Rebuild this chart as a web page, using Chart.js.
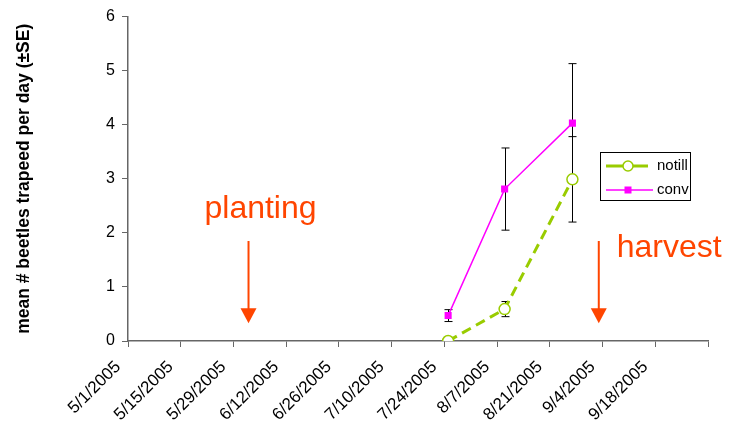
<!DOCTYPE html>
<html>
<head>
<meta charset="utf-8">
<script src="https://cdn.jsdelivr.net/npm/chart.js@4.4.0/dist/chart.umd.min.js"></script>
<style>
  body { margin: 0; background: #fff; }
  canvas { display: block; }
</style>
</head>
<body>
<canvas id="chart" width="738" height="430"></canvas>
<script>
// sampling dates and trap counts
const sampleDates = ['7/25/2005', '8/9/2005', '8/27/2005'];
const notill = [0, 0.59, 2.99];
const notillSE = [0, 0.14, 0.79];
const conv = [0.47, 2.81, 4.03];
const convSE = [0.11, 0.76, 1.10];

const startDate = '5/1/2005';
const endDate = '10/2/2005';
const tickStepDays = 14;
const yTicks = [0, 1, 2, 3, 4, 5, 6];

// field events marked with arrows
const eventLabels = ['planting', 'harvest'];
const eventDates = ['6/2/2005', '9/3/2005'];
const arrowFrom = 1.85;
const arrowTo = 0.33;

const ORANGE = '#FF4500';
const AXIS = '#666';
const FONT = '"Liberation Sans", Arial, sans-serif';

function toDate(s) {
    const [m, d, y] = s.split('/').map(Number);
    return Date.UTC(y, m - 1, d);
}
function dayNum(s) {
    return Math.round((toDate(s) - toDate(startDate)) / 864e5);
}
function dayLabel(n) {
    const d = new Date(toDate(startDate) + n * 864e5);
    return (d.getUTCMonth() + 1) + '/' + d.getUTCDate() + '/' + d.getUTCFullYear();
}

const xs = sampleDates.map(dayNum);
const xMax = dayNum(endDate);

const errorBars = {
    id: 'errorBars',
    beforeDatasetsDraw(chart) {
        const ctx = chart.ctx;
        const xScale = chart.scales.x, yScale = chart.scales.y;
        ctx.save();
        ctx.strokeStyle = '#000';
        ctx.lineWidth = 1;
        [[notill, notillSE], [conv, convSE]].forEach(([vals, se]) => {
            vals.forEach((v, i) => {
                if (!se[i]) return;
                const px = Math.round(xScale.getPixelForValue(xs[i])) + 0.5;
                const top = yScale.getPixelForValue(v + se[i]);
                const bot = yScale.getPixelForValue(v - se[i]);
                ctx.beginPath();
                ctx.moveTo(px, top); ctx.lineTo(px, bot);
                ctx.moveTo(px - 4, top); ctx.lineTo(px + 4, top);
                ctx.moveTo(px - 4, bot); ctx.lineTo(px + 4, bot);
                ctx.stroke();
            });
        });
        ctx.restore();
    }
};

const extras = {
    id: 'extras',
    afterDraw(chart) {
        const ctx = chart.ctx;
        const xScale = chart.scales.x, yScale = chart.scales.y;
        ctx.save();

        // event arrows and labels
        ctx.fillStyle = ORANGE;
        ctx.strokeStyle = ORANGE;
        ctx.lineWidth = 2;
        ctx.font = '32px ' + FONT;
        eventDates.forEach((d, i) => {
            const px = xScale.getPixelForValue(dayNum(d));
            const top = yScale.getPixelForValue(arrowFrom);
            const bot = yScale.getPixelForValue(arrowTo);
            ctx.beginPath();
            ctx.moveTo(px, top); ctx.lineTo(px, bot - 14);
            ctx.stroke();
            ctx.beginPath();
            ctx.moveTo(px - 8, bot - 15);
            ctx.lineTo(px + 8, bot - 15);
            ctx.lineTo(px, bot);
            ctx.closePath();
            ctx.fill();
            if (i === 0) {
                ctx.textAlign = 'center';
                ctx.fillText(eventLabels[i], px + 12, top - 23);
            } else {
                ctx.textAlign = 'left';
                ctx.fillText(eventLabels[i], px + 18, top + 16);
            }
        });

        // legend
        const lx = 600.5, ly = 152.5, lw = 90, lh = 48;
        ctx.strokeStyle = '#000';
        ctx.lineWidth = 1;
        ctx.strokeRect(lx, ly, lw, lh);
        ctx.font = '15px ' + FONT;
        ctx.textAlign = 'left';
        ctx.textBaseline = 'middle';

        ctx.strokeStyle = '#99CC00';
        ctx.lineWidth = 3;
        ctx.beginPath(); ctx.moveTo(606, 166); ctx.lineTo(648, 166); ctx.stroke();
        ctx.fillStyle = '#fff';
        ctx.lineWidth = 1.5;
        ctx.beginPath(); ctx.arc(628, 166, 5, 0, Math.PI * 2); ctx.fill(); ctx.stroke();
        ctx.fillStyle = '#000';
        ctx.fillText('notill', 657, 166);

        ctx.strokeStyle = '#FF00FF';
        ctx.lineWidth = 1.5;
        ctx.beginPath(); ctx.moveTo(606, 190); ctx.lineTo(653, 190); ctx.stroke();
        ctx.fillStyle = '#FF00FF';
        ctx.fillRect(624.5, 186.5, 7, 7);
        ctx.fillStyle = '#000';
        ctx.fillText('conv', 657, 190);

        ctx.restore();
    }
};

new Chart(document.getElementById('chart'), {
    type: 'line',
    data: {
        datasets: [
            {
                label: 'notill',
                data: xs.map((x, i) => ({ x: x, y: notill[i] })),
                borderColor: '#99CC00',
                borderWidth: 3,
                borderDash: [10, 6],
                pointStyle: 'circle',
                pointRadius: 5.5,
                pointBorderWidth: 1.5,
                pointBorderColor: '#99CC00',
                pointBackgroundColor: '#fff',
                tension: 0
            },
            {
                label: 'conv',
                data: xs.map((x, i) => ({ x: x, y: conv[i] })),
                borderColor: '#FF00FF',
                borderWidth: 1.5,
                pointStyle: 'rect',
                pointRadius: 5,
                pointBorderWidth: 0,
                pointBackgroundColor: '#FF00FF',
                pointBorderColor: '#FF00FF',
                tension: 0
            }
        ]
    },
    options: {
        responsive: false,
        devicePixelRatio: 1,
        animation: false,
        layout: { padding: { top: 16, right: 30, left: 14, bottom: 0 } },
        plugins: {
            legend: { display: false },
            tooltip: { enabled: false }
        },
        scales: {
            x: {
                type: 'linear',
                min: 0,
                max: xMax,
                afterFit(scale) {
                    scale.height = 89;
                    scale.paddingLeft = 0;
                    scale.paddingRight = 0;
                },
                afterBuildTicks(scale) {
                    const t = [];
                    for (let v = 0; v <= xMax; v += tickStepDays) t.push({ value: v });
                    scale.ticks = t;
                },
                grid: { drawOnChartArea: false, drawTicks: true, tickLength: 6, color: AXIS },
                border: { color: AXIS, width: 1.5 },
                ticks: {
                    autoSkip: false,
                    minRotation: 45,
                    maxRotation: 45,
                    padding: 10,
                    labelOffset: -10,
                    color: '#000',
                    font: { size: 17, family: FONT },
                    callback: v => (v >= xMax ? '' : dayLabel(v))
                }
            },
            y: {
                min: 0,
                max: 6,
                afterFit(scale) { scale.width = 114; },
                afterBuildTicks(scale) {
                    scale.ticks = yTicks.map(v => ({ value: v }));
                },
                grid: { drawOnChartArea: false, drawTicks: true, tickLength: 6, color: AXIS },
                border: { color: AXIS, width: 1.5 },
                ticks: {
                    padding: 7,
                    color: '#000',
                    font: { size: 16, family: FONT }
                },
                title: {
                    display: true,
                    text: 'mean # beetles trapeed per day (±SE)',
                    color: '#000',
                    padding: { top: 0, bottom: 0 },
                    font: { size: 17.5, weight: 'bold', family: FONT }
                }
            }
        }
    },
    plugins: [errorBars, extras]
});
</script>
</body>
</html>
